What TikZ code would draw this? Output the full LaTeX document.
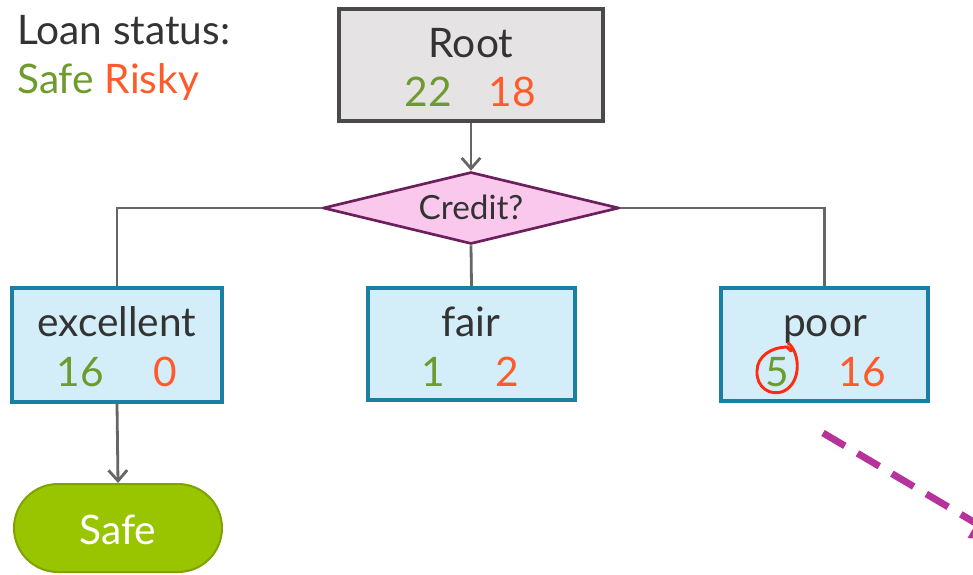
\documentclass[tikz,border=0pt]{standalone}
\usepackage{fontspec}
\setmainfont{Lato}
\usetikzlibrary{shapes.geometric,arrows.meta}
\definecolor{safeg}{HTML}{6E9A2E}
\definecolor{riskyo}{HTML}{FF5A2B}
\definecolor{txt}{HTML}{333333}
\definecolor{rootfill}{HTML}{E5E3E4}
\definecolor{rootdraw}{HTML}{4A4A4A}
\definecolor{leaffill}{HTML}{D3EEF9}
\definecolor{leafdraw}{HTML}{1A7FA3}
\definecolor{dfill}{HTML}{F9C8EC}
\definecolor{ddraw}{HTML}{6B1F5B}
\definecolor{pillfill}{HTML}{99C400}
\definecolor{pilldraw}{HTML}{7FA300}
\definecolor{conn}{HTML}{666666}
\definecolor{magen}{HTML}{B5339A}
\definecolor{circred}{HTML}{FF2A10}
\tikzset{
  big/.style={font=\fontsize{30.5}{36}\selectfont, text=txt, inner sep=0pt, anchor=base},
  num/.style={font=\fontsize{30.5}{36}\selectfont, inner sep=0pt, anchor=base},
  rootbox/.style={draw=rootdraw, fill=rootfill, line width=2.3pt},
  leafbox/.style={draw=leafdraw, fill=leaffill, line width=2.3pt},
  conline/.style={draw=conn, line width=2.1pt},
  conarrow/.style={conline, -{Straight Barb[length=8pt,width=14pt,line width=2.1pt]}},
}
\begin{document}
\begin{tikzpicture}[x=0.75pt,y=-0.75pt]
\useasboundingbox (0,0) rectangle (973,574);
\clip (0,0) rectangle (973,574);
% legend
\node[big, anchor=base west] (legend1) at (17,45) {Loan status:};
\node[num, anchor=base west, text=safeg] (legsafe) at (17,94) {Safe};
\node[num, anchor=base west, text=riskyo] (legrisky) at (legsafe.base east) {\ Risky};
% root
\node[rootbox, minimum width=264*0.75pt, minimum height=112*0.75pt, inner sep=0pt] (root) at (471,65) {};
\node[big] (roottxt) at (471,58) {Root};
\node[num, text=safeg] (root22) at (428,107) {22};
\node[num, text=riskyo] (root18) at (512,107) {18};
% diamond
\node[diamond, draw=ddraw, fill=dfill, line width=2pt, inner sep=0pt,
      aspect=4.1, minimum height=72*0.75pt, minimum width=296*0.75pt] (credit) at (471,208) {};
\node[font=\fontsize{25}{30}\selectfont, text=txt, inner sep=0pt, anchor=base] (credittxt) at (471,219) {Credit?};
% leaves
\node[leafbox, minimum width=210*0.75pt, minimum height=114*0.75pt, inner sep=0pt] (exc) at (117,345) {};
\node[leafbox, minimum width=207*0.75pt, minimum height=112*0.75pt, inner sep=0pt] (fair) at (471.5,344) {};
\node[leafbox, minimum width=207*0.75pt, minimum height=113*0.75pt, inner sep=0pt] (poor) at (824.5,344.5) {};
\node[big] (exctxt) at (117,336) {excellent};
\node[num, text=safeg] (exc16) at (80,386) {16};
\node[num, text=riskyo] (exc0) at (165,386) {0};
\node[big] (fairtxt) at (471,336) {fair};
\node[num, text=safeg] (fair1) at (433,386) {1};
\node[num, text=riskyo] (fair2) at (507,386) {2};
\node[big] (poortxt) at (825,336) {poor};
\node[num, text=safeg] (poor5) at (777,386) {5};
\node[num, text=riskyo] (poor16) at (862,386) {16};
% safe pill
\node[draw=pilldraw, fill=pillfill, line width=1.5pt, rounded corners=44*0.75pt,
      minimum width=208*0.75pt, minimum height=88*0.75pt, inner sep=0pt] (safe) at (118,528) {};
\node[text=white, font=\fontsize{30.5}{36}\selectfont, inner sep=0pt, anchor=base] (safetxt) at (118,544) {Safe};
% connectors
\draw[conarrow] (root.south) -- (credit.north);
\draw[conline] (credit.west) -| (exc.north);
\draw[conline] (credit.east) -| (poor.north);
\draw[conline] (credit.south) -- (fair.north);
\draw[conarrow] (exc.south) -- (safe.north);
% dashed magenta arrow
\coordinate (dstart) at (823,433);
\coordinate (dend) at (1006,541);
\draw[magen, line width=5.2pt, dash pattern=on 19pt off 11pt, -{Triangle[length=26pt,width=24pt]}] (dstart) -- (dend);
% red hand-drawn circle around 5
\draw[circred, line width=2.2pt, line cap=round]
  (788,343) .. controls (800,352) and (802,382) .. (784,391)
  .. controls (770,397) and (756,387) .. (757,371)
  .. controls (757,356) and (772,347) .. (787,347)
  -- (791,351);
\end{tikzpicture}
\end{document}
